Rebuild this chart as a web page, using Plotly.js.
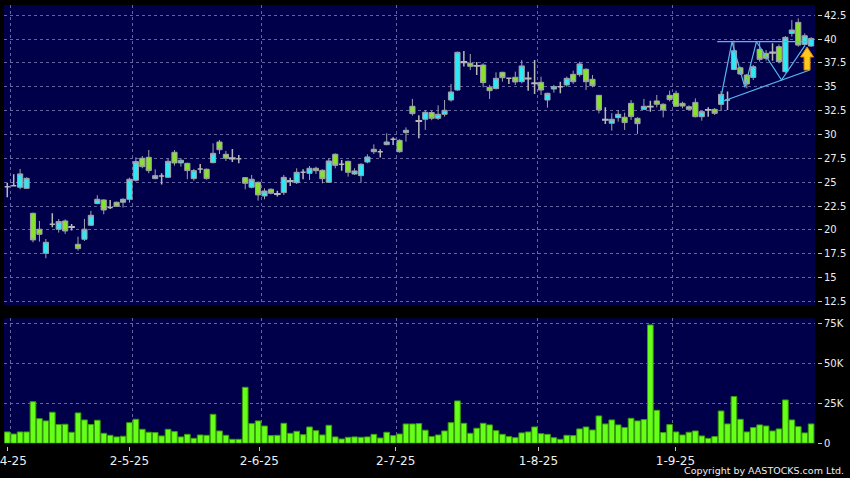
<!DOCTYPE html>
<html>
<head>
<meta charset="utf-8">
<script src="https://cdn.plot.ly/plotly-3.0.1.min.js"></script>
<style>html,body{margin:0;padding:0;background:#000;}#chart{width:850px;height:478px;}</style>
</head>
<body>
<div id="chart"></div>
<script>
// ---- data ----
const openP = [24.53,24.64,24.47,24.36,21.74,20.07,17.55,20.59,20.07,20.94,
20.32,18.49,19.02,20.49,22.76,23.14,22.34,22.90,22.90,23.21,
25.20,27.51,27.61,25.38,25.66,25.52,28.14,27.02,26.98,25.38,
26.39,26.36,27.05,29.22,27.93,27.55,27.47,25.48,24.47,24.99,
23.56,24.26,23.80,23.91,25.15,24.95,26.04,25.93,26.46,26.25,
24.99,27.93,26.88,27.19,25.86,25.69,27.12,28.45,28.20,28.94,
29.50,29.39,30.20,32.96,31.45,31.60,32.30,31.70,32.12,33.62,
34.67,37.62,37.47,37.22,37.29,34.95,34.81,36.52,35.89,36.00,
35.54,35.90,35.35,35.47,33.62,34.77,35.02,35.20,36.31,36.28,
36.84,35.79,34.11,31.58,31.18,31.77,31.81,33.27,31.70,32.64,
32.95,33.52,33.17,34.11,34.32,33.27,32.92,33.37,31.87,32.60,
32.64,33.16,33.62,36.83,37.00,36.24,35.99,38.93,38.51,38.56,
39.21,36.59,40.60,41.76,39.45,39.28];
const highP = [24.95,25.83,26.39,25.50,21.81,20.94,19.05,21.74,21.15,21.11,
20.62,19.30,21.15,21.99,23.63,23.21,23.14,22.97,23.31,25.48,
27.60,27.75,28.38,26.35,25.94,27.47,28.38,27.51,27.05,26.39,
26.91,26.43,29.08,29.43,28.28,28.49,27.86,25.55,25.76,25.06,
24.36,24.36,24.10,25.76,25.48,26.46,26.35,26.70,26.63,26.35,
27.51,28.03,27.33,27.26,26.46,26.98,27.93,28.97,28.45,30.13,
29.71,29.50,30.75,33.73,32.02,32.57,32.50,33.06,33.62,35.30,
38.69,38.76,38.44,37.60,37.47,35.20,36.52,36.59,35.92,36.59,
37.82,36.59,37.82,36.07,34.39,35.20,35.54,36.07,36.70,37.64,
36.94,36.24,34.15,32.85,32.23,32.57,32.29,33.62,31.81,33.73,
33.55,34.15,33.27,34.60,34.60,33.44,33.06,33.79,32.46,32.85,
32.78,34.56,34.50,39.84,37.11,36.34,37.29,39.73,38.86,39.56,
39.45,40.33,42.00,42.18,40.60,40.19];
const lowP = [23.42,24.54,24.26,24.30,18.70,18.77,17.03,20.28,19.72,19.58,
19.93,17.83,18.84,20.42,22.69,21.64,22.20,22.41,22.34,22.86,
25.06,26.46,25.94,25.31,24.75,25.48,26.74,26.63,25.31,25.17,
25.94,25.27,26.98,27.96,27.23,27.12,26.98,24.26,24.36,23.07,
23.21,23.73,23.50,23.66,24.61,24.81,25.30,25.23,25.86,24.88,
24.95,26.46,26.21,25.58,25.76,24.95,26.98,27.96,27.58,28.87,
28.90,28.10,29.25,31.98,29.60,30.48,31.50,31.53,31.88,33.45,
34.57,37.12,36.77,36.24,34.95,33.73,34.74,35.54,35.30,35.20,
35.37,34.60,34.25,34.15,32.82,34.39,34.32,35.02,35.30,36.07,
34.67,34.95,32.22,31.11,30.41,31.35,30.48,31.53,30.06,32.57,
32.40,32.85,31.80,33.48,32.92,32.74,32.57,31.80,31.45,31.87,
32.05,32.46,32.57,36.76,36.24,34.84,35.72,37.64,37.74,37.74,
37.46,36.48,40.26,39.21,39.21,39.21];
const closeP = [24.53,24.64,25.87,25.41,18.95,19.54,18.70,20.59,20.87,19.89,
20.27,18.04,20.07,21.53,23.21,22.09,22.34,22.48,23.21,25.31,
27.16,26.63,26.22,25.69,25.66,27.19,27.02,27.30,26.22,26.22,
26.39,25.38,28.03,28.41,27.51,27.47,27.47,24.89,25.31,23.67,
24.08,23.84,23.75,25.51,25.10,26.04,26.04,26.46,26.21,25.37,
27.23,26.77,26.88,26.04,26.18,26.88,27.65,28.20,28.20,29.22,
29.50,28.20,30.44,32.19,31.40,32.33,31.70,32.12,32.54,34.46,
38.62,37.56,37.15,37.18,35.44,34.60,35.89,35.96,35.89,35.51,
37.19,35.85,35.40,34.67,34.32,35.02,35.02,35.89,35.54,37.40,
35.54,35.12,32.57,31.53,31.60,32.12,31.25,31.88,31.14,32.96,
32.92,33.17,32.57,33.66,32.96,32.99,32.64,31.87,32.40,32.57,
32.22,34.21,33.62,38.79,36.34,35.30,37.11,37.88,37.99,38.62,
37.64,40.19,40.96,39.38,40.36,40.08];
const volumeK = [7.1,5.8,7.1,7.1,26.0,15.4,14.0,19.4,11.7,11.9,
6.9,19.0,14.6,11.7,14.4,6.25,5.0,4.0,4.4,12.9,
15.0,8.75,6.9,6.7,4.6,8.75,7.3,4.0,5.6,3.1,
5.2,5.0,18.1,7.7,5.0,2.5,2.5,35.0,12.3,14.0,
10.8,4.8,5.0,12.5,6.25,7.5,5.4,10.2,7.9,5.2,
11.25,4.0,2.7,3.75,4.0,3.75,4.0,5.6,3.3,6.9,
4.8,5.8,12.1,12.1,12.3,8.2,4.2,5.2,7.7,12.9,
26.5,12.5,6.25,9.4,12.5,11.5,7.9,5.6,4.2,3.5,
6.5,7.1,10.2,6.0,5.6,3.5,2.5,5.0,4.8,9.0,
10.2,8.3,17.1,12.1,14.6,11.5,9.8,15.6,14.0,14.8,
74.0,20.6,6.7,11.7,7.1,5.2,6.9,7.7,4.6,3.1,
4.2,20.2,12.1,29.2,15.0,7.1,9.8,11.5,10.8,7.7,
9.0,27.1,14.6,10.4,6.5,12.1];

const dateTickPos  = [0, 19, 39.2, 60.4, 82.6, 103.9];
const dateTickText = ['1-4-25','2-5-25','2-6-25','2-7-25','1-8-25','1-9-25'];
const dateGridPos  = [0.47, 19.44, 39.5, 60.5, 82.4, 103.4];
const priceTicks   = [12.5,15,17.5,20,22.5,25,27.5,30,32.5,35,37.5,40,42.5];
const volTickVals  = [0, 25000, 50000, 75000];
const volTickText  = ['0','25K','50K','75K'];

// pattern lines drawn on the chart (index, price)
const zigIdx   = [110.9, 112.7, 114.7, 116.5, 120.4, 124.0];
const zigPrice = [33.6, 39.73, 34.95, 39.73, 35.72, 39.3];
const topIdx   = [110.4, 124.8];
const topPrice = [39.73, 39.73];
const lowIdx   = [111.4, 124.8];
const lowPrice = [33.52, 36.77];
// signal arrow tip (index, price)
const arrowIdx = [124.37];
const arrowPrice = [39.18];

// ---- styling ----
const CYAN = '#2fe8f6', GREEN = '#86e22c', WICK = '#a2a2aa', DOJI = '#b8b8b8';
const GRID = '#6464a0', NAVY = '#00004a', TXT = '#eeeeee';
const XR = [-0.51, 125.6], YR = [12.13, 43.58], VR = [0, 78125];
const W = 850, H = 478, ML = 4, MT = 5;
const XDOM = [0, 0.9586], YDOM = [0.3658, 1], VDOM = [0.0734, 0.3376];

const idx = openP.map((_, i) => i);
const isDoji = i => Math.abs(closeP[i] - openP[i]) < 0.1;
function pick(cond) {
  const s = idx.filter(cond);
  return {x: s, open: s.map(i => openP[i]), high: s.map(i => highP[i]),
          low: s.map(i => lowP[i]), close: s.map(i => closeP[i])};
}
function candle(d, incFill, decFill, lc, lw) {
  return Object.assign({type: 'candlestick', xaxis: 'x', yaxis: 'y', whiskerwidth: 0,
    hoverinfo: 'skip', showlegend: false,
    increasing: {line: {color: lc, width: lw}, fillcolor: incFill},
    decreasing: {line: {color: lc, width: lw}, fillcolor: decFill}}, d);
}
const traces = [
  {type: 'bar', x: idx, y: volumeK.map(v => v * 1000), xaxis: 'x2', yaxis: 'y2',
   marker: {color: '#66ff1a', line: {color: '#3a9a0a', width: 1}}, hoverinfo: 'skip'},
  candle(pick(i => !isDoji(i) && closeP[i] > openP[i]), CYAN, CYAN, WICK, 1),
  candle(pick(i => !isDoji(i) && closeP[i] < openP[i]), GREEN, GREEN, WICK, 1),
  candle(pick(isDoji), DOJI, DOJI, DOJI, 1.5),
  {type: 'scatter', mode: 'lines', x: topIdx, y: topPrice, xaxis: 'x', yaxis: 'y',
   line: {color: '#58b6ee', width: 1.2}, hoverinfo: 'skip'},
  {type: 'scatter', mode: 'lines', x: zigIdx, y: zigPrice, xaxis: 'x', yaxis: 'y',
   line: {color: '#58b6ee', width: 1.2}, hoverinfo: 'skip'},
  {type: 'scatter', mode: 'lines', x: lowIdx, y: lowPrice, xaxis: 'x', yaxis: 'y',
   line: {color: '#58b6ee', width: 1.2}, hoverinfo: 'skip'}
];

// arrow path: pixel offsets converted to data units through the axis scales
const plotW = W - ML, plotH = H - MT;
const pxX = (XDOM[1] - XDOM[0]) * plotW / (XR[1] - XR[0]);
const pxY = (YDOM[1] - YDOM[0]) * plotH / (YR[1] - YR[0]);
const arrowPx = [[0,0],[6.5,10],[3,10],[3,23],[-3,23],[-3,10],[-6.5,10]];
const arrowPath = arrowPx.map((p, k) =>
  (k ? 'L' : 'M') + (arrowIdx[0] + p[0] / pxX).toFixed(4) + ',' + (arrowPrice[0] - p[1] / pxY).toFixed(4)
).join(' ') + ' Z';

const minorGrid = {tickmode: 'array', tickvals: dateGridPos, showgrid: true, gridcolor: GRID,
  griddash: '3px,3px', gridwidth: 1, ticks: ''};
const layout = {
  width: W, height: H, margin: {l: ML, r: 0, t: MT, b: 0, pad: 0},
  paper_bgcolor: '#000000', plot_bgcolor: NAVY, showlegend: false, hovermode: false,
  boxgap: 0.2, boxgroupgap: 0, bargap: 0.12,
  font: {family: 'DejaVu Sans', color: TXT, size: 10},
  xaxis: {domain: XDOM, range: XR, autorange: false, anchor: 'y', showticklabels: false,
    ticks: '', showgrid: false, zeroline: false, showline: false,
    rangeslider: {visible: false}, tickmode: 'array', tickvals: dateTickPos, minor: minorGrid},
  xaxis2: {domain: XDOM, range: XR, autorange: false, anchor: 'free', position: 0.0677,
    tickmode: 'array', tickvals: dateTickPos, ticktext: dateTickText,
    ticks: 'outside', ticklen: 4, tickwidth: 1, tickcolor: '#c8c8c8', ticklabeloverflow: 'allow',
    showgrid: false, zeroline: false, showline: false,
    tickfont: {family: 'DejaVu Sans', size: 12, color: TXT}, minor: minorGrid},
  yaxis: {domain: YDOM, range: YR, autorange: false, side: 'right', anchor: 'free', position: 0.961,
    tickmode: 'array', tickvals: priceTicks, ticks: 'outside', ticklen: 4, tickwidth: 1,
    tickcolor: '#c8c8c8', showgrid: true, gridcolor: GRID, griddash: '3px,3px', gridwidth: 1,
    zeroline: false, showline: false, tickfont: {family: 'DejaVu Sans', size: 10, color: TXT}},
  yaxis2: {domain: VDOM, range: VR, autorange: false, side: 'right', anchor: 'free', position: 0.961,
    tickmode: 'array', tickvals: volTickVals, ticktext: volTickText, ticks: 'outside', ticklen: 4,
    tickwidth: 1, tickcolor: '#c8c8c8', showgrid: true, gridcolor: GRID, griddash: '3px,3px',
    gridwidth: 1, zeroline: false, showline: false,
    tickfont: {family: 'DejaVu Sans', size: 10, color: TXT}},
  shapes: [{type: 'path', xref: 'x', yref: 'y', path: arrowPath,
    fillcolor: '#ffc81e', line: {color: '#d98c00', width: 1}, layer: 'above'}],
  annotations: [{text: 'Copyright by AASTOCKS.com Ltd.', xref: 'paper', yref: 'paper',
    x: 0.9953, y: 0.0148, xanchor: 'right', yanchor: 'middle', showarrow: false,
    font: {family: 'DejaVu Sans', size: 9.5, color: TXT}}]
};
Plotly.newPlot('chart', traces, layout, {staticPlot: true, displayModeBar: false});
</script>
</body>
</html>
